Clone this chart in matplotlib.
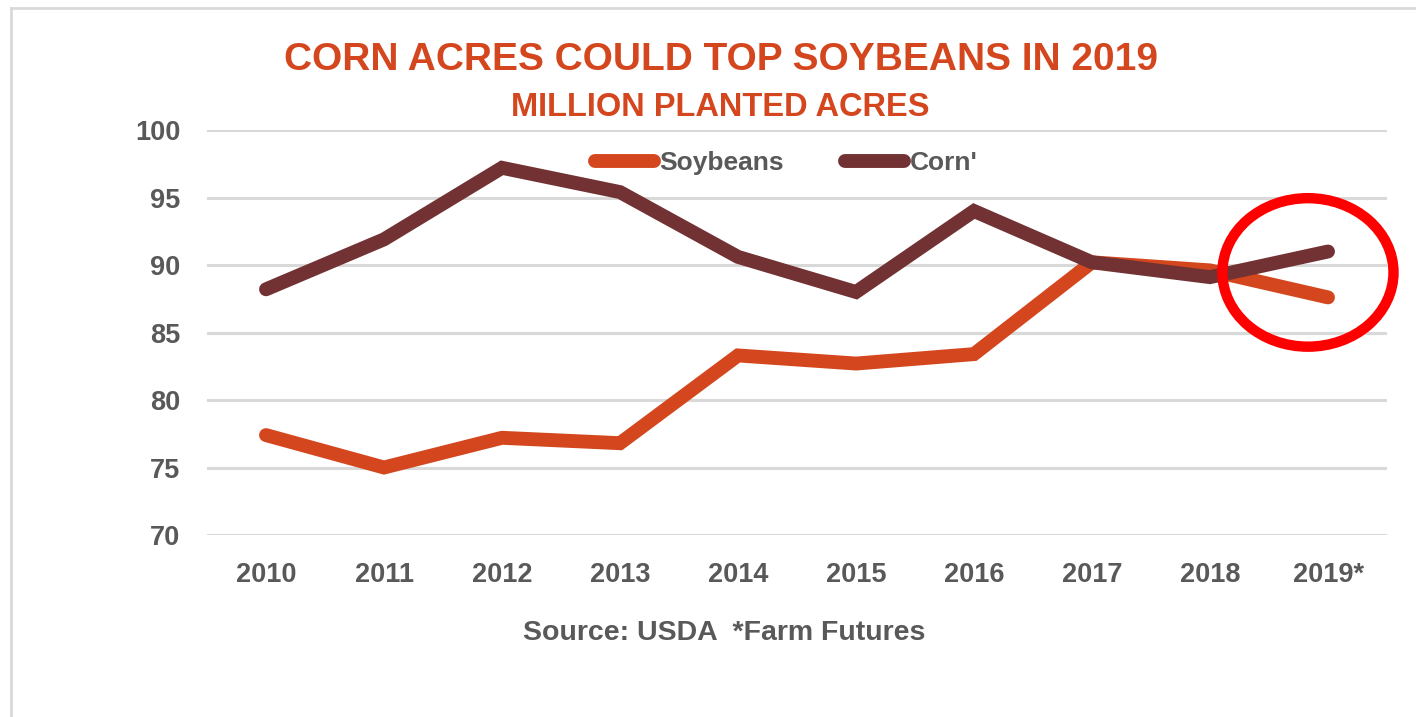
import matplotlib
matplotlib.use("Agg")
import matplotlib.pyplot as plt
from matplotlib.patches import Ellipse
from matplotlib.lines import Line2D

plt.rcParams['font.family'] = ['Liberation Sans Narrow', 'Liberation Sans', 'DejaVu Sans']

years = ["2010", "2011", "2012", "2013", "2014", "2015", "2016", "2017", "2018", "2019*"]
soybeans = [77.4, 75.0, 77.2, 76.8, 83.3, 82.7, 83.4, 90.2, 89.6, 87.6]
corn = [88.2, 91.9, 97.2, 95.4, 90.6, 88.0, 94.0, 90.2, 89.1, 91.0]
yticks = [70, 75, 80, 85, 90, 95, 100]

SOY = "#D4461E"
CORN = "#723132"
TXT = "#595959"
GRID = "#D9D9D9"

fig = plt.figure(figsize=(14.16, 7.17), dpi=100)
ax = fig.add_axes([207 / 1416, 1 - 535 / 717, 1180 / 1416, 405 / 717])

x = list(range(len(years)))
ax.plot(x, soybeans, color=SOY, lw=10, solid_capstyle="round", solid_joinstyle="miter", zorder=3)
ax.plot(x, corn, color=CORN, lw=10, solid_capstyle="round", solid_joinstyle="miter", zorder=4)

ax.set_xlim(-0.5, len(years) - 0.5)
ax.set_ylim(70, 100)
ax.set_yticks(yticks)
ax.set_xticks(x)
ax.set_xticklabels(years)
ax.grid(axis="y", color=GRID, lw=2.2)
ax.set_axisbelow(True)
for s in ax.spines.values():
    s.set_visible(False)
ax.tick_params(length=0, labelsize=19.5, labelcolor=TXT, pad=0)
ax.tick_params(axis="y", pad=19)
ax.tick_params(axis="x", pad=19.5)
for lab in ax.get_xticklabels() + ax.get_yticklabels():
    lab.set_fontweight("bold")
for lab in ax.get_yticklabels():
    lab.set_horizontalalignment("right")

# highlight the 2019 estimate
ax.add_patch(Ellipse((8.83, 89.45), 1.45, 11.0, fill=False, ec="#FF0000", lw=7.5,
                     clip_on=False, zorder=5))

handles = [Line2D([], [], color=SOY, lw=10, solid_capstyle="round"),
           Line2D([], [], color=CORN, lw=10, solid_capstyle="round")]
leg = ax.legend(handles, ["Soybeans", "Corn'"], loc="center", bbox_to_anchor=(786 / 1416, 1 - 163 / 717),
                bbox_transform=fig.transFigure, ncol=2, frameon=False, fontsize=19,
                handlelength=2.25, handletextpad=0.2, columnspacing=2.3)
for t in leg.get_texts():
    t.set_color(TXT)
    t.set_fontweight("bold")

fig.text(721 / 1416, 1 - 60 / 717, "CORN ACRES COULD TOP SOYBEANS IN 2019", ha="center", va="center",
         color=SOY, fontsize=28, fontweight="bold")
fig.text(720 / 1416, 1 - 107 / 717, "MILLION PLANTED ACRES", ha="center", va="center",
         color=SOY, fontsize=23.5, fontweight="bold")
fig.text(724 / 1416, 1 - 633 / 717, "Source: USDA  *Farm Futures", ha="center", va="center",
         color=TXT, fontsize=20.5, fontweight="bold")

# chart frame
fig.add_artist(Line2D([11 / 1416, 11 / 1416], [0, 1 - 8 / 717], transform=fig.transFigure, color=GRID, lw=2))
fig.add_artist(Line2D([11 / 1416, 1], [1 - 8 / 717, 1 - 8 / 717], transform=fig.transFigure, color=GRID, lw=2))

fig.savefig("out.png", dpi=100, facecolor="white")
